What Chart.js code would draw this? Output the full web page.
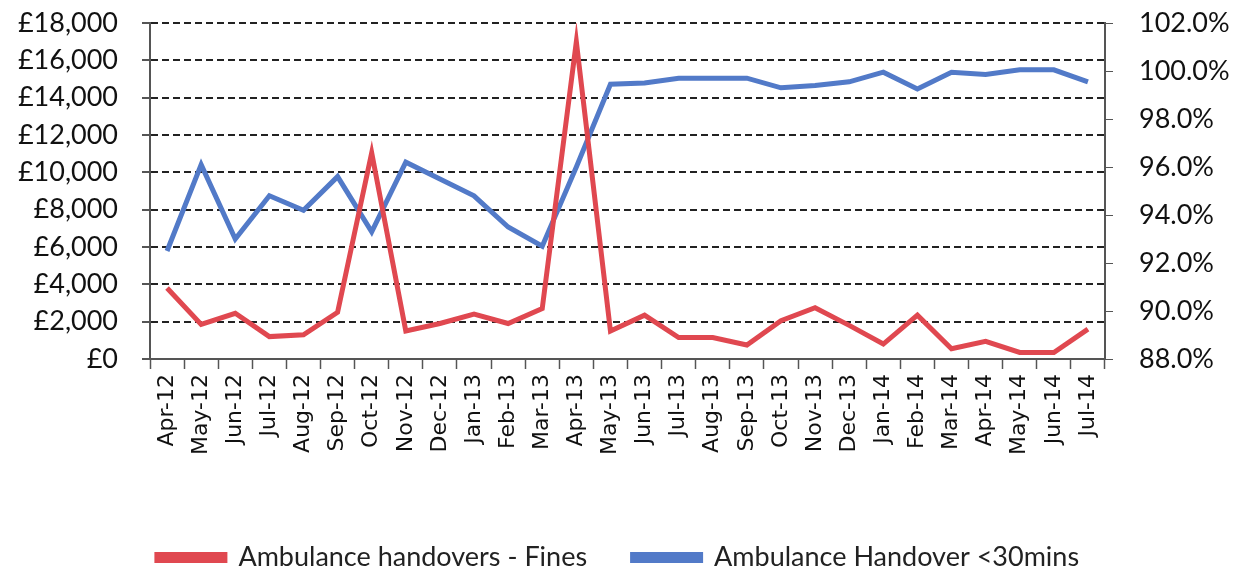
<!DOCTYPE html>
<html>
<head>
<meta charset="utf-8">
<script src="https://cdn.jsdelivr.net/npm/chart.js@4"></script>
<style>
  html, body { margin: 0; padding: 0; background: #fff; }
  #wrap { width: 1236px; height: 574px; }
</style>
</head>
<body>
<div id="wrap"><canvas id="handoverChart"></canvas></div>
<script>
// Categories (months)
const months = ['Apr-12', 'May-12', 'Jun-12', 'Jul-12', 'Aug-12', 'Sep-12', 'Oct-12', 'Nov-12', 'Dec-12',
  'Jan-13', 'Feb-13', 'Mar-13', 'Apr-13', 'May-13', 'Jun-13', 'Jul-13', 'Aug-13', 'Sep-13', 'Oct-13',
  'Nov-13', 'Dec-13', 'Jan-14', 'Feb-14', 'Mar-14', 'Apr-14', 'May-14', 'Jun-14', 'Jul-14'];

// Fines in pounds (left axis)
const fines = [3800, 1850, 2450, 1200, 1300, 2500, 11050, 1500, 1900,
  2400, 1900, 2700, 17000, 1500, 2350, 1150, 1150, 750, 2050,
  2750, 1800, 800, 2350, 550, 950, 350, 350, 1600];

// Handovers under 30 minutes, percent (right axis)
const under30 = [92.5, 96.1, 93.0, 94.8, 94.2, 95.6, 93.3, 96.2, 95.5,
  94.8, 93.5, 92.7, 96.0, 99.45, 99.5, 99.7, 99.7, 99.7, 99.3,
  99.4, 99.55, 99.95, 99.25, 99.95, 99.85, 100.05, 100.05, 99.55];

const axisGrey = '#555';
const fontFam = 'Lato, "Open Sans", sans-serif';

// fixed axis sizes so the plot area sits where the original does
const fitY = (w) => (scale) => {
  scale.width = w;
  scale.paddingTop = 14;
  scale.paddingBottom = 14;
};

const ctx = document.getElementById('handoverChart').getContext('2d');

new Chart(ctx, {
  type: 'line',
  data: {
    labels: months,
    datasets: [
      {
        label: 'Ambulance handovers - Fines',
        data: fines,
        yAxisID: 'y',
        borderColor: 'rgb(224, 72, 80)',
        backgroundColor: 'rgb(224, 72, 80)',
        borderWidth: 5,
        pointRadius: 0,
        tension: 0
      },
      {
        label: 'Ambulance Handover <30mins',
        data: under30,
        yAxisID: 'y1',
        borderColor: 'rgb(82, 122, 200)',
        backgroundColor: 'rgb(82, 122, 200)',
        borderWidth: 5,
        pointRadius: 0,
        tension: 0
      }
    ]
  },
  options: {
    responsive: true,
    maintainAspectRatio: false,
    animation: false,
    layout: { padding: { top: 23, right: 0, left: 0, bottom: -7 } },
    plugins: {
      legend: {
        position: 'bottom',
        labels: {
          boxWidth: 68,
          boxHeight: 6,
          padding: 5,
          color: '#222',
          font: { family: fontFam, size: 27 },
          // widen the gap between the two entries
          generateLabels: (chart) => {
            const items = Chart.defaults.plugins.legend.labels.generateLabels(chart);
            items[0].text = items[0].text + '\u2003\u2003';
            return items;
          }
        }
      },
      tooltip: { enabled: false }
    },
    scales: {
      x: {
        offset: true,
        afterFit: (scale) => { scale.height = 180; },
        grid: {
          offset: true,
          drawOnChartArea: false,
          tickLength: 10,
          tickColor: axisGrey,
          tickWidth: 1.5
        },
        border: { color: axisGrey, width: 2 },
        ticks: {
          minRotation: 90,
          maxRotation: 90,
          autoSkip: false,
          color: '#111',
          padding: 5,
          font: { family: '"DejaVu Sans", sans-serif', size: 22 }
        }
      },
      y: {
        position: 'left',
        min: 0,
        max: 18000,
        afterFit: fitY(150),
        ticks: {
          stepSize: 2000,
          autoSkip: false,
          color: '#111',
          padding: 24,
          font: { family: fontFam, size: 27, lineHeight: 1 },
          callback: (v) => '£' + v.toLocaleString('en-GB')
        },
        grid: {
          color: (c) => c.tick && c.tick.value === 0 ? 'rgba(0,0,0,0)' : '#222',
          lineWidth: 2,
          tickBorderDash: [],
          tickColor: axisGrey,
          tickLength: 8
        },
        border: { color: axisGrey, width: 2, dash: [7, 4] }
      },
      y1: {
        position: 'right',
        min: 88,
        max: 102,
        afterFit: fitY(131),
        ticks: {
          stepSize: 2,
          autoSkip: false,
          color: '#111',
          padding: 26,
          font: { family: fontFam, size: 27, lineHeight: 1 },
          callback: (v) => v.toFixed(1) + '%'
        },
        grid: {
          drawOnChartArea: false,
          tickColor: axisGrey,
          tickLength: 8
        },
        border: { color: axisGrey, width: 2 }
      }
    }
  }
});
</script>
</body>
</html>
